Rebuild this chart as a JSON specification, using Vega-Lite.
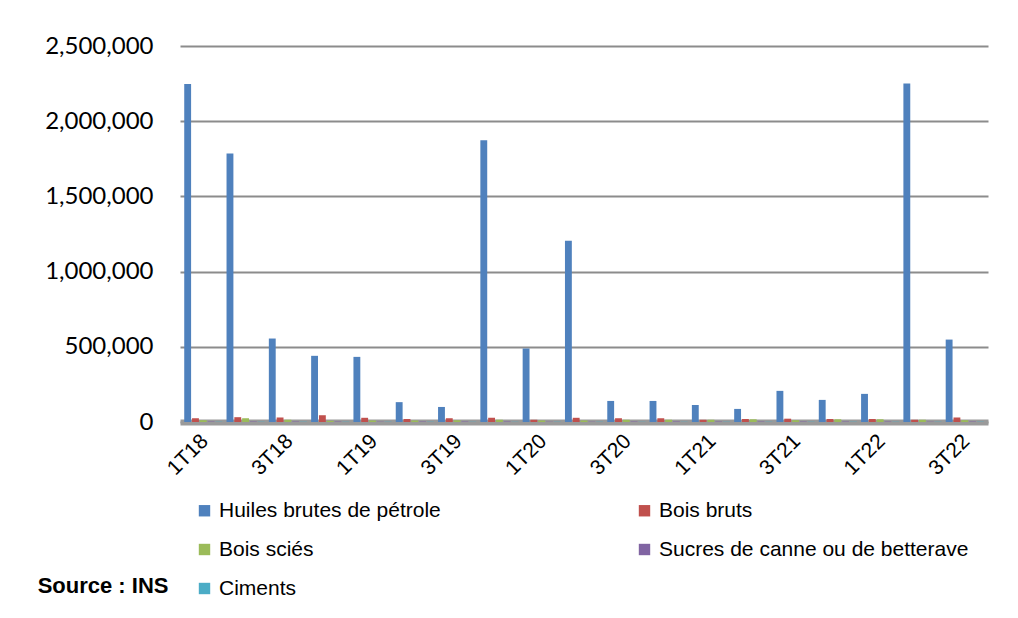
{
  "$schema": "https://vega.github.io/schema/vega-lite/v6.json",
  "autosize": {"type": "none"},
  "width": 808,
  "height": 376,
  "padding": {"left": 180, "top": 46, "right": 30, "bottom": 196},
  "background": "white",
  "title": {
    "text": "Source : INS",
    "orient": "bottom",
    "anchor": "start",
    "dx": -7,
    "offset": -23,
    "font": "Liberation Sans Narrow, Liberation Sans, sans-serif",
    "fontSize": 22,
    "fontWeight": "bold",
    "color": "#000000"
  },
  "data": {
    "values": [
      {"q": "1T18", "s": "Huiles brutes de pétrole", "v": 2247000},
      {"q": "2T18", "s": "Huiles brutes de pétrole", "v": 1785000},
      {"q": "3T18", "s": "Huiles brutes de pétrole", "v": 555000},
      {"q": "4T18", "s": "Huiles brutes de pétrole", "v": 440000},
      {"q": "1T19", "s": "Huiles brutes de pétrole", "v": 433000},
      {"q": "2T19", "s": "Huiles brutes de pétrole", "v": 132000},
      {"q": "3T19", "s": "Huiles brutes de pétrole", "v": 100000},
      {"q": "4T19", "s": "Huiles brutes de pétrole", "v": 1873000},
      {"q": "1T20", "s": "Huiles brutes de pétrole", "v": 488000},
      {"q": "2T20", "s": "Huiles brutes de pétrole", "v": 1205000},
      {"q": "3T20", "s": "Huiles brutes de pétrole", "v": 140000},
      {"q": "4T20", "s": "Huiles brutes de pétrole", "v": 140000},
      {"q": "1T21", "s": "Huiles brutes de pétrole", "v": 113000},
      {"q": "2T21", "s": "Huiles brutes de pétrole", "v": 87000},
      {"q": "3T21", "s": "Huiles brutes de pétrole", "v": 207000},
      {"q": "4T21", "s": "Huiles brutes de pétrole", "v": 147000},
      {"q": "1T22", "s": "Huiles brutes de pétrole", "v": 187000},
      {"q": "2T22", "s": "Huiles brutes de pétrole", "v": 2250000},
      {"q": "3T22", "s": "Huiles brutes de pétrole", "v": 548000},
      {"q": "1T18", "s": "Bois bruts", "v": 25000},
      {"q": "2T18", "s": "Bois bruts", "v": 32000},
      {"q": "3T18", "s": "Bois bruts", "v": 30000},
      {"q": "4T18", "s": "Bois bruts", "v": 45000},
      {"q": "1T19", "s": "Bois bruts", "v": 28000},
      {"q": "2T19", "s": "Bois bruts", "v": 20000},
      {"q": "3T19", "s": "Bois bruts", "v": 25000},
      {"q": "4T19", "s": "Bois bruts", "v": 28000},
      {"q": "1T20", "s": "Bois bruts", "v": 15000},
      {"q": "2T20", "s": "Bois bruts", "v": 28000},
      {"q": "3T20", "s": "Bois bruts", "v": 25000},
      {"q": "4T20", "s": "Bois bruts", "v": 25000},
      {"q": "1T21", "s": "Bois bruts", "v": 15000},
      {"q": "2T21", "s": "Bois bruts", "v": 20000},
      {"q": "3T21", "s": "Bois bruts", "v": 22000},
      {"q": "4T21", "s": "Bois bruts", "v": 20000},
      {"q": "1T22", "s": "Bois bruts", "v": 20000},
      {"q": "2T22", "s": "Bois bruts", "v": 15000},
      {"q": "3T22", "s": "Bois bruts", "v": 30000},
      {"q": "1T18", "s": "Bois sciés", "v": 12000},
      {"q": "2T18", "s": "Bois sciés", "v": 25000},
      {"q": "3T18", "s": "Bois sciés", "v": 15000},
      {"q": "4T18", "s": "Bois sciés", "v": 8000},
      {"q": "1T19", "s": "Bois sciés", "v": 10000},
      {"q": "2T19", "s": "Bois sciés", "v": 10000},
      {"q": "3T19", "s": "Bois sciés", "v": 12000},
      {"q": "4T19", "s": "Bois sciés", "v": 15000},
      {"q": "1T20", "s": "Bois sciés", "v": 10000},
      {"q": "2T20", "s": "Bois sciés", "v": 10000},
      {"q": "3T20", "s": "Bois sciés", "v": 15000},
      {"q": "4T20", "s": "Bois sciés", "v": 15000},
      {"q": "1T21", "s": "Bois sciés", "v": 15000},
      {"q": "2T21", "s": "Bois sciés", "v": 18000},
      {"q": "3T21", "s": "Bois sciés", "v": 12000},
      {"q": "4T21", "s": "Bois sciés", "v": 18000},
      {"q": "1T22", "s": "Bois sciés", "v": 18000},
      {"q": "2T22", "s": "Bois sciés", "v": 15000},
      {"q": "3T22", "s": "Bois sciés", "v": 12000},
      {"q": "1T18", "s": "Sucres de canne ou de betterave", "v": 3000},
      {"q": "2T18", "s": "Sucres de canne ou de betterave", "v": 3000},
      {"q": "3T18", "s": "Sucres de canne ou de betterave", "v": 3000},
      {"q": "4T18", "s": "Sucres de canne ou de betterave", "v": 3000},
      {"q": "1T19", "s": "Sucres de canne ou de betterave", "v": 2000},
      {"q": "2T19", "s": "Sucres de canne ou de betterave", "v": 3000},
      {"q": "3T19", "s": "Sucres de canne ou de betterave", "v": 3000},
      {"q": "4T19", "s": "Sucres de canne ou de betterave", "v": 3000},
      {"q": "1T20", "s": "Sucres de canne ou de betterave", "v": 2000},
      {"q": "2T20", "s": "Sucres de canne ou de betterave", "v": 2000},
      {"q": "3T20", "s": "Sucres de canne ou de betterave", "v": 3000},
      {"q": "4T20", "s": "Sucres de canne ou de betterave", "v": 3000},
      {"q": "1T21", "s": "Sucres de canne ou de betterave", "v": 3000},
      {"q": "2T21", "s": "Sucres de canne ou de betterave", "v": 3000},
      {"q": "3T21", "s": "Sucres de canne ou de betterave", "v": 3000},
      {"q": "4T21", "s": "Sucres de canne ou de betterave", "v": 3000},
      {"q": "1T22", "s": "Sucres de canne ou de betterave", "v": 3000},
      {"q": "2T22", "s": "Sucres de canne ou de betterave", "v": 2000},
      {"q": "3T22", "s": "Sucres de canne ou de betterave", "v": 3000},
      {"q": "1T18", "s": "Ciments", "v": 2000},
      {"q": "2T18", "s": "Ciments", "v": 2000},
      {"q": "3T18", "s": "Ciments", "v": 2000},
      {"q": "4T18", "s": "Ciments", "v": 2000},
      {"q": "1T19", "s": "Ciments", "v": 2000},
      {"q": "2T19", "s": "Ciments", "v": 2000},
      {"q": "3T19", "s": "Ciments", "v": 2000},
      {"q": "4T19", "s": "Ciments", "v": 2000},
      {"q": "1T20", "s": "Ciments", "v": 2000},
      {"q": "2T20", "s": "Ciments", "v": 2000},
      {"q": "3T20", "s": "Ciments", "v": 2000},
      {"q": "4T20", "s": "Ciments", "v": 2000},
      {"q": "1T21", "s": "Ciments", "v": 2000},
      {"q": "2T21", "s": "Ciments", "v": 2000},
      {"q": "3T21", "s": "Ciments", "v": 2000},
      {"q": "4T21", "s": "Ciments", "v": 2000},
      {"q": "1T22", "s": "Ciments", "v": 2000},
      {"q": "2T22", "s": "Ciments", "v": 2000},
      {"q": "3T22", "s": "Ciments", "v": 2000}
    ]
  },
  "mark": {"type": "bar"},
  "encoding": {
    "x": {
      "field": "q",
      "type": "nominal",
      "sort": null,
      "scale": {"paddingInner": 0.1, "paddingOuter": 0.1},
      "axis": {
        "title": null,
        "values": ["1T18", "3T18", "1T19", "3T19", "1T20", "3T20", "1T21", "3T21", "1T22", "3T22"],
        "labelAngle": -45,
        "labelAlign": "right",
        "labelBaseline": "top",
        "labelPadding": 8,
        "labelOffset": -6,
        "labelFont": "Liberation Sans",
        "labelFontSize": 21,
        "labelColor": "#000000",
        "ticks": false,
        "domainColor": "#9a9a9a",
        "domainWidth": 6,
        "grid": false
      }
    },
    "xOffset": {
      "field": "s",
      "type": "nominal",
      "sort": ["Huiles brutes de pétrole", "Bois bruts", "Bois sciés", "Sucres de canne ou de betterave", "Ciments"],
      "scale": {"paddingInner": 0.12}
    },
    "y": {
      "field": "v",
      "type": "quantitative",
      "scale": {"domain": [0, 2500000]},
      "axis": {
        "title": null,
        "values": [0, 500000, 1000000, 1500000, 2000000, 2500000],
        "format": ",.0f",
        "labelFont": "Lato, Open Sans, sans-serif",
        "labelFontSize": 24,
        "labelColor": "#000000",
        "labelPadding": 27,
        "ticks": false,
        "domain": false,
        "grid": true,
        "gridColor": "#8c8c8c",
        "gridWidth": 2
      }
    },
    "color": {
      "field": "s",
      "type": "nominal",
      "scale": {
        "domain": ["Huiles brutes de pétrole", "Bois bruts", "Bois sciés", "Sucres de canne ou de betterave", "Ciments"],
        "range": ["#4F81BD", "#C0504D", "#9BBB59", "#8064A2", "#4BACC6"]
      },
      "legend": {
        "title": null,
        "orient": "none",
        "legendX": 14,
        "legendY": 454,
        "direction": "horizontal",
        "columns": 2,
        "columnPadding": 193,
        "rowPadding": 17,
        "symbolType": "square",
        "symbolSize": 130,
        "symbolStrokeWidth": 0,
        "labelFont": "Liberation Sans Narrow, Liberation Sans, sans-serif",
        "labelFontSize": 21,
        "labelColor": "#000000",
        "labelLimit": 400,
        "labelOffset": 4
      }
    }
  },
  "config": {
    "view": {"stroke": null}
  }
}
